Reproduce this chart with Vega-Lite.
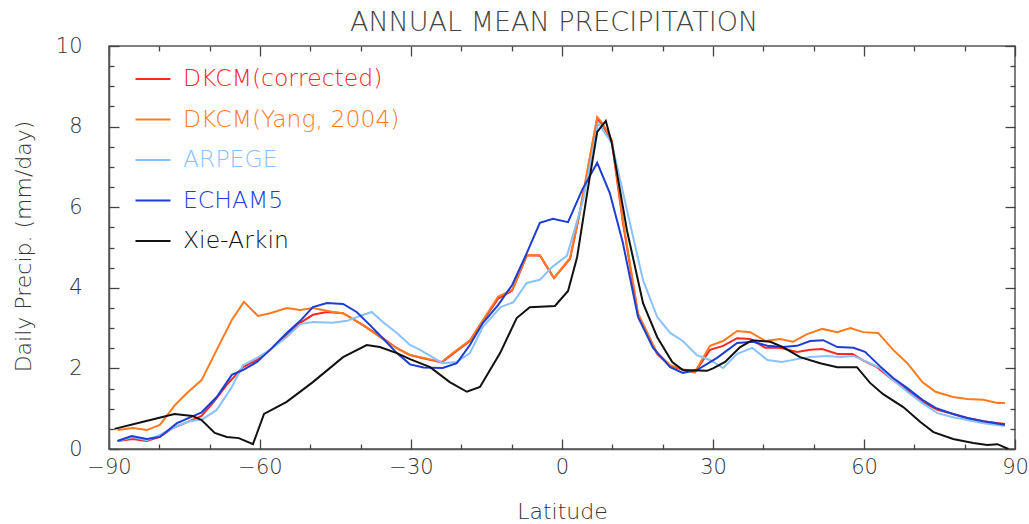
{
  "$schema": "https://vega.github.io/schema/vega-lite/v6.json",
  "width": 906,
  "height": 403,
  "autosize": {"type": "none"},
  "padding": {"left": 109, "top": 46, "right": 14, "bottom": 75},
  "background": "white",
  "title": {"text": "ANNUAL MEAN PRECIPITATION", "fontSize": 27, "font": "DejaVu Sans", "fontWeight": 200, "color": "#444", "offset": -2, "dx": -8, "anchor": "middle"},
  "config": {"view": {"stroke": "#555", "strokeWidth": 1.5}, "axis": {"grid": false, "domainColor": "#555", "domainWidth": 1.5, "tickColor": "#444", "tickWidth": 1.3, "zindex": 1}},
  "data": {"values": [
    {"s":"DKCM(corrected)","lat":-88.3,"p":0.2},{"s":"DKCM(corrected)","lat":-85.3,"p":0.25},{"s":"DKCM(corrected)","lat":-82.5,"p":0.2},{"s":"DKCM(corrected)","lat":-79.9,"p":0.3},{"s":"DKCM(corrected)","lat":-77.3,"p":0.52},{"s":"DKCM(corrected)","lat":-74,"p":0.69},{"s":"DKCM(corrected)","lat":-71.6,"p":0.82},{"s":"DKCM(corrected)","lat":-69.4,"p":1.14},{"s":"DKCM(corrected)","lat":-66.6,"p":1.59},{"s":"DKCM(corrected)","lat":-63.4,"p":2.03},{"s":"DKCM(corrected)","lat":-60.6,"p":2.21},{"s":"DKCM(corrected)","lat":-58,"p":2.46},{"s":"DKCM(corrected)","lat":-54.7,"p":2.83},{"s":"DKCM(corrected)","lat":-52,"p":3.13},{"s":"DKCM(corrected)","lat":-49.5,"p":3.33},{"s":"DKCM(corrected)","lat":-46.7,"p":3.4},{"s":"DKCM(corrected)","lat":-43.5,"p":3.37},{"s":"DKCM(corrected)","lat":-39.6,"p":3.08},{"s":"DKCM(corrected)","lat":-36.2,"p":2.8},{"s":"DKCM(corrected)","lat":-32.8,"p":2.5},{"s":"DKCM(corrected)","lat":-30.2,"p":2.33},{"s":"DKCM(corrected)","lat":-28.2,"p":2.27},{"s":"DKCM(corrected)","lat":-23.9,"p":2.15},{"s":"DKCM(corrected)","lat":-21.7,"p":2.36},{"s":"DKCM(corrected)","lat":-18.3,"p":2.68},{"s":"DKCM(corrected)","lat":-15.7,"p":3.18},{"s":"DKCM(corrected)","lat":-12.7,"p":3.73},{"s":"DKCM(corrected)","lat":-9.9,"p":3.93},{"s":"DKCM(corrected)","lat":-7,"p":4.8},{"s":"DKCM(corrected)","lat":-4.4,"p":4.8},{"s":"DKCM(corrected)","lat":-1.6,"p":4.24},{"s":"DKCM(corrected)","lat":1.6,"p":4.72},{"s":"DKCM(corrected)","lat":3.6,"p":5.9},{"s":"DKCM(corrected)","lat":7,"p":8.2},{"s":"DKCM(corrected)","lat":8,"p":8.05},{"s":"DKCM(corrected)","lat":9.9,"p":7.62},{"s":"DKCM(corrected)","lat":12.1,"p":5.62},{"s":"DKCM(corrected)","lat":15.1,"p":3.33},{"s":"DKCM(corrected)","lat":18.9,"p":2.36},{"s":"DKCM(corrected)","lat":21.5,"p":2.06},{"s":"DKCM(corrected)","lat":24,"p":1.97},{"s":"DKCM(corrected)","lat":26.4,"p":1.9},{"s":"DKCM(corrected)","lat":29.4,"p":2.46},{"s":"DKCM(corrected)","lat":32,"p":2.56},{"s":"DKCM(corrected)","lat":34.8,"p":2.75},{"s":"DKCM(corrected)","lat":37.4,"p":2.73},{"s":"DKCM(corrected)","lat":40.4,"p":2.51},{"s":"DKCM(corrected)","lat":43.3,"p":2.51},{"s":"DKCM(corrected)","lat":46.7,"p":2.41},{"s":"DKCM(corrected)","lat":49.3,"p":2.46},{"s":"DKCM(corrected)","lat":51.7,"p":2.48},{"s":"DKCM(corrected)","lat":54.7,"p":2.36},{"s":"DKCM(corrected)","lat":57.7,"p":2.36},{"s":"DKCM(corrected)","lat":59.8,"p":2.2},{"s":"DKCM(corrected)","lat":62.6,"p":2.03},{"s":"DKCM(corrected)","lat":65.8,"p":1.71},{"s":"DKCM(corrected)","lat":68.6,"p":1.46},{"s":"DKCM(corrected)","lat":71.6,"p":1.17},{"s":"DKCM(corrected)","lat":74.6,"p":0.97},{"s":"DKCM(corrected)","lat":77.7,"p":0.87},{"s":"DKCM(corrected)","lat":80.5,"p":0.77},{"s":"DKCM(corrected)","lat":83.7,"p":0.69},{"s":"DKCM(corrected)","lat":88,"p":0.62},
    {"s":"DKCM(Yang, 2004)","lat":-88.3,"p":0.47},{"s":"DKCM(Yang, 2004)","lat":-85.3,"p":0.52},{"s":"DKCM(Yang, 2004)","lat":-82.5,"p":0.47},{"s":"DKCM(Yang, 2004)","lat":-79.9,"p":0.6},{"s":"DKCM(Yang, 2004)","lat":-76.9,"p":1.09},{"s":"DKCM(Yang, 2004)","lat":-74.5,"p":1.39},{"s":"DKCM(Yang, 2004)","lat":-71.6,"p":1.71},{"s":"DKCM(Yang, 2004)","lat":-68.6,"p":2.46},{"s":"DKCM(Yang, 2004)","lat":-65.6,"p":3.2},{"s":"DKCM(Yang, 2004)","lat":-63.2,"p":3.65},{"s":"DKCM(Yang, 2004)","lat":-60.4,"p":3.3},{"s":"DKCM(Yang, 2004)","lat":-58,"p":3.37},{"s":"DKCM(Yang, 2004)","lat":-54.7,"p":3.5},{"s":"DKCM(Yang, 2004)","lat":-52,"p":3.45},{"s":"DKCM(Yang, 2004)","lat":-49.5,"p":3.5},{"s":"DKCM(Yang, 2004)","lat":-45.5,"p":3.4},{"s":"DKCM(Yang, 2004)","lat":-43.5,"p":3.37},{"s":"DKCM(Yang, 2004)","lat":-39.6,"p":3.08},{"s":"DKCM(Yang, 2004)","lat":-36.2,"p":2.78},{"s":"DKCM(Yang, 2004)","lat":-32.8,"p":2.5},{"s":"DKCM(Yang, 2004)","lat":-30.2,"p":2.33},{"s":"DKCM(Yang, 2004)","lat":-28.2,"p":2.28},{"s":"DKCM(Yang, 2004)","lat":-23.9,"p":2.16},{"s":"DKCM(Yang, 2004)","lat":-21.7,"p":2.38},{"s":"DKCM(Yang, 2004)","lat":-18.3,"p":2.7},{"s":"DKCM(Yang, 2004)","lat":-15.7,"p":3.2},{"s":"DKCM(Yang, 2004)","lat":-12.7,"p":3.78},{"s":"DKCM(Yang, 2004)","lat":-9.9,"p":3.95},{"s":"DKCM(Yang, 2004)","lat":-7,"p":4.81},{"s":"DKCM(Yang, 2004)","lat":-4.4,"p":4.81},{"s":"DKCM(Yang, 2004)","lat":-1.6,"p":4.24},{"s":"DKCM(Yang, 2004)","lat":1.6,"p":4.74},{"s":"DKCM(Yang, 2004)","lat":3.6,"p":5.93},{"s":"DKCM(Yang, 2004)","lat":7,"p":8.24},{"s":"DKCM(Yang, 2004)","lat":8,"p":8.09},{"s":"DKCM(Yang, 2004)","lat":9.9,"p":7.67},{"s":"DKCM(Yang, 2004)","lat":12.1,"p":5.68},{"s":"DKCM(Yang, 2004)","lat":15.1,"p":3.37},{"s":"DKCM(Yang, 2004)","lat":18.9,"p":2.38},{"s":"DKCM(Yang, 2004)","lat":21.5,"p":2.08},{"s":"DKCM(Yang, 2004)","lat":24,"p":1.98},{"s":"DKCM(Yang, 2004)","lat":26.4,"p":1.91},{"s":"DKCM(Yang, 2004)","lat":29.4,"p":2.56},{"s":"DKCM(Yang, 2004)","lat":32,"p":2.68},{"s":"DKCM(Yang, 2004)","lat":34.8,"p":2.93},{"s":"DKCM(Yang, 2004)","lat":37.4,"p":2.9},{"s":"DKCM(Yang, 2004)","lat":40.4,"p":2.68},{"s":"DKCM(Yang, 2004)","lat":43.3,"p":2.73},{"s":"DKCM(Yang, 2004)","lat":45.9,"p":2.66},{"s":"DKCM(Yang, 2004)","lat":48.7,"p":2.85},{"s":"DKCM(Yang, 2004)","lat":51.7,"p":2.98},{"s":"DKCM(Yang, 2004)","lat":54.7,"p":2.9},{"s":"DKCM(Yang, 2004)","lat":57.3,"p":3.0},{"s":"DKCM(Yang, 2004)","lat":59.8,"p":2.9},{"s":"DKCM(Yang, 2004)","lat":62.8,"p":2.88},{"s":"DKCM(Yang, 2004)","lat":65.8,"p":2.46},{"s":"DKCM(Yang, 2004)","lat":68.6,"p":2.13},{"s":"DKCM(Yang, 2004)","lat":71.6,"p":1.66},{"s":"DKCM(Yang, 2004)","lat":74.2,"p":1.42},{"s":"DKCM(Yang, 2004)","lat":77.7,"p":1.29},{"s":"DKCM(Yang, 2004)","lat":80.5,"p":1.24},{"s":"DKCM(Yang, 2004)","lat":83.7,"p":1.22},{"s":"DKCM(Yang, 2004)","lat":86.5,"p":1.14},{"s":"DKCM(Yang, 2004)","lat":88,"p":1.14},
    {"s":"ARPEGE","lat":-88.3,"p":0.2},{"s":"ARPEGE","lat":-85.3,"p":0.3},{"s":"ARPEGE","lat":-82.5,"p":0.22},{"s":"ARPEGE","lat":-79.9,"p":0.35},{"s":"ARPEGE","lat":-76.5,"p":0.57},{"s":"ARPEGE","lat":-74,"p":0.69},{"s":"ARPEGE","lat":-71.4,"p":0.74},{"s":"ARPEGE","lat":-68.6,"p":0.97},{"s":"ARPEGE","lat":-65.6,"p":1.54},{"s":"ARPEGE","lat":-63.4,"p":2.08},{"s":"ARPEGE","lat":-60.6,"p":2.26},{"s":"ARPEGE","lat":-58,"p":2.46},{"s":"ARPEGE","lat":-54.7,"p":2.78},{"s":"ARPEGE","lat":-52,"p":3.1},{"s":"ARPEGE","lat":-49.5,"p":3.15},{"s":"ARPEGE","lat":-45.5,"p":3.13},{"s":"ARPEGE","lat":-42.7,"p":3.18},{"s":"ARPEGE","lat":-40.2,"p":3.3},{"s":"ARPEGE","lat":-37.8,"p":3.4},{"s":"ARPEGE","lat":-35.6,"p":3.15},{"s":"ARPEGE","lat":-32.8,"p":2.88},{"s":"ARPEGE","lat":-30.2,"p":2.58},{"s":"ARPEGE","lat":-28.2,"p":2.46},{"s":"ARPEGE","lat":-23.7,"p":2.13},{"s":"ARPEGE","lat":-20.9,"p":2.16},{"s":"ARPEGE","lat":-18.3,"p":2.38},{"s":"ARPEGE","lat":-15.7,"p":3.03},{"s":"ARPEGE","lat":-12.2,"p":3.52},{"s":"ARPEGE","lat":-9.7,"p":3.64},{"s":"ARPEGE","lat":-7,"p":4.12},{"s":"ARPEGE","lat":-4.4,"p":4.2},{"s":"ARPEGE","lat":-1.9,"p":4.52},{"s":"ARPEGE","lat":1.0,"p":4.8},{"s":"ARPEGE","lat":4.2,"p":6.18},{"s":"ARPEGE","lat":7.2,"p":8.09},{"s":"ARPEGE","lat":9.9,"p":7.59},{"s":"ARPEGE","lat":12.9,"p":5.93},{"s":"ARPEGE","lat":16.1,"p":4.19},{"s":"ARPEGE","lat":18.9,"p":3.28},{"s":"ARPEGE","lat":21.5,"p":2.88},{"s":"ARPEGE","lat":24,"p":2.68},{"s":"ARPEGE","lat":26.8,"p":2.33},{"s":"ARPEGE","lat":29.4,"p":2.21},{"s":"ARPEGE","lat":32,"p":2.01},{"s":"ARPEGE","lat":34.8,"p":2.36},{"s":"ARPEGE","lat":37.8,"p":2.51},{"s":"ARPEGE","lat":40.8,"p":2.21},{"s":"ARPEGE","lat":43.7,"p":2.16},{"s":"ARPEGE","lat":46.7,"p":2.23},{"s":"ARPEGE","lat":49.3,"p":2.28},{"s":"ARPEGE","lat":52.7,"p":2.31},{"s":"ARPEGE","lat":55.3,"p":2.28},{"s":"ARPEGE","lat":57.9,"p":2.31},{"s":"ARPEGE","lat":60.6,"p":2.16},{"s":"ARPEGE","lat":63.2,"p":2.01},{"s":"ARPEGE","lat":65.8,"p":1.71},{"s":"ARPEGE","lat":68.6,"p":1.42},{"s":"ARPEGE","lat":71.6,"p":1.14},{"s":"ARPEGE","lat":74.6,"p":0.89},{"s":"ARPEGE","lat":77.7,"p":0.79},{"s":"ARPEGE","lat":80.5,"p":0.72},{"s":"ARPEGE","lat":83.7,"p":0.64},{"s":"ARPEGE","lat":88,"p":0.57},
    {"s":"ECHAM5","lat":-88.3,"p":0.2},{"s":"ECHAM5","lat":-85.5,"p":0.32},{"s":"ECHAM5","lat":-82.5,"p":0.25},{"s":"ECHAM5","lat":-79.9,"p":0.3},{"s":"ECHAM5","lat":-76.5,"p":0.64},{"s":"ECHAM5","lat":-71.6,"p":0.91},{"s":"ECHAM5","lat":-68.6,"p":1.29},{"s":"ECHAM5","lat":-65.6,"p":1.84},{"s":"ECHAM5","lat":-63.4,"p":1.96},{"s":"ECHAM5","lat":-60.6,"p":2.16},{"s":"ECHAM5","lat":-58,"p":2.46},{"s":"ECHAM5","lat":-54.7,"p":2.88},{"s":"ECHAM5","lat":-52,"p":3.18},{"s":"ECHAM5","lat":-49.5,"p":3.52},{"s":"ECHAM5","lat":-46.7,"p":3.62},{"s":"ECHAM5","lat":-43.5,"p":3.6},{"s":"ECHAM5","lat":-40.8,"p":3.4},{"s":"ECHAM5","lat":-38.2,"p":3.08},{"s":"ECHAM5","lat":-35.6,"p":2.75},{"s":"ECHAM5","lat":-32.8,"p":2.38},{"s":"ECHAM5","lat":-30.2,"p":2.1},{"s":"ECHAM5","lat":-27.5,"p":2.02},{"s":"ECHAM5","lat":-23.7,"p":2.01},{"s":"ECHAM5","lat":-20.9,"p":2.13},{"s":"ECHAM5","lat":-18.3,"p":2.58},{"s":"ECHAM5","lat":-15.7,"p":3.13},{"s":"ECHAM5","lat":-12.7,"p":3.57},{"s":"ECHAM5","lat":-9.9,"p":4.07},{"s":"ECHAM5","lat":-7,"p":4.86},{"s":"ECHAM5","lat":-4.4,"p":5.61},{"s":"ECHAM5","lat":-1.8,"p":5.71},{"s":"ECHAM5","lat":1.2,"p":5.63},{"s":"ECHAM5","lat":4,"p":6.43},{"s":"ECHAM5","lat":7,"p":7.1},{"s":"ECHAM5","lat":9.5,"p":6.35},{"s":"ECHAM5","lat":12.1,"p":5.11},{"s":"ECHAM5","lat":15.1,"p":3.28},{"s":"ECHAM5","lat":18.1,"p":2.51},{"s":"ECHAM5","lat":21.5,"p":2.03},{"s":"ECHAM5","lat":24,"p":1.89},{"s":"ECHAM5","lat":26.8,"p":1.96},{"s":"ECHAM5","lat":30.8,"p":2.26},{"s":"ECHAM5","lat":34.8,"p":2.63},{"s":"ECHAM5","lat":38,"p":2.66},{"s":"ECHAM5","lat":40.8,"p":2.56},{"s":"ECHAM5","lat":43.9,"p":2.53},{"s":"ECHAM5","lat":46.7,"p":2.56},{"s":"ECHAM5","lat":49.3,"p":2.68},{"s":"ECHAM5","lat":51.9,"p":2.7},{"s":"ECHAM5","lat":54.7,"p":2.53},{"s":"ECHAM5","lat":57.9,"p":2.51},{"s":"ECHAM5","lat":60.2,"p":2.41},{"s":"ECHAM5","lat":63.2,"p":2.05},{"s":"ECHAM5","lat":65.8,"p":1.76},{"s":"ECHAM5","lat":68.6,"p":1.51},{"s":"ECHAM5","lat":71.6,"p":1.22},{"s":"ECHAM5","lat":74.2,"p":1.02},{"s":"ECHAM5","lat":77.7,"p":0.87},{"s":"ECHAM5","lat":80.5,"p":0.77},{"s":"ECHAM5","lat":83.7,"p":0.69},{"s":"ECHAM5","lat":88,"p":0.6},
    {"s":"Xie-Arkin","lat":-88.9,"p":0.5},{"s":"Xie-Arkin","lat":-83,"p":0.68},{"s":"Xie-Arkin","lat":-77,"p":0.87},{"s":"Xie-Arkin","lat":-73.4,"p":0.82},{"s":"Xie-Arkin","lat":-71.6,"p":0.72},{"s":"Xie-Arkin","lat":-69,"p":0.4},{"s":"Xie-Arkin","lat":-66.6,"p":0.3},{"s":"Xie-Arkin","lat":-64.2,"p":0.27},{"s":"Xie-Arkin","lat":-61.4,"p":0.12},{"s":"Xie-Arkin","lat":-59.2,"p":0.87},{"s":"Xie-Arkin","lat":-54.7,"p":1.17},{"s":"Xie-Arkin","lat":-49.5,"p":1.66},{"s":"Xie-Arkin","lat":-43.5,"p":2.28},{"s":"Xie-Arkin","lat":-38.8,"p":2.58},{"s":"Xie-Arkin","lat":-36.2,"p":2.53},{"s":"Xie-Arkin","lat":-32.8,"p":2.38},{"s":"Xie-Arkin","lat":-30.2,"p":2.23},{"s":"Xie-Arkin","lat":-26.2,"p":2.03},{"s":"Xie-Arkin","lat":-22.3,"p":1.66},{"s":"Xie-Arkin","lat":-18.9,"p":1.42},{"s":"Xie-Arkin","lat":-16.3,"p":1.54},{"s":"Xie-Arkin","lat":-12.3,"p":2.38},{"s":"Xie-Arkin","lat":-9,"p":3.25},{"s":"Xie-Arkin","lat":-6.4,"p":3.52},{"s":"Xie-Arkin","lat":-1.4,"p":3.55},{"s":"Xie-Arkin","lat":1.2,"p":3.92},{"s":"Xie-Arkin","lat":3,"p":4.76},{"s":"Xie-Arkin","lat":5,"p":6.35},{"s":"Xie-Arkin","lat":7,"p":7.87},{"s":"Xie-Arkin","lat":8.7,"p":8.14},{"s":"Xie-Arkin","lat":9.9,"p":7.59},{"s":"Xie-Arkin","lat":12.9,"p":5.43},{"s":"Xie-Arkin","lat":16.1,"p":3.62},{"s":"Xie-Arkin","lat":18.9,"p":2.78},{"s":"Xie-Arkin","lat":21.9,"p":2.16},{"s":"Xie-Arkin","lat":24,"p":1.96},{"s":"Xie-Arkin","lat":28.8,"p":1.94},{"s":"Xie-Arkin","lat":30,"p":2.0},{"s":"Xie-Arkin","lat":32.4,"p":2.16},{"s":"Xie-Arkin","lat":35.4,"p":2.53},{"s":"Xie-Arkin","lat":37.8,"p":2.7},{"s":"Xie-Arkin","lat":41.4,"p":2.66},{"s":"Xie-Arkin","lat":43.9,"p":2.53},{"s":"Xie-Arkin","lat":47.3,"p":2.28},{"s":"Xie-Arkin","lat":51.3,"p":2.13},{"s":"Xie-Arkin","lat":54.7,"p":2.03},{"s":"Xie-Arkin","lat":58.6,"p":2.03},{"s":"Xie-Arkin","lat":61.2,"p":1.64},{"s":"Xie-Arkin","lat":63.8,"p":1.36},{"s":"Xie-Arkin","lat":67.8,"p":1.04},{"s":"Xie-Arkin","lat":71.2,"p":0.67},{"s":"Xie-Arkin","lat":73.8,"p":0.42},{"s":"Xie-Arkin","lat":77.7,"p":0.25},{"s":"Xie-Arkin","lat":81.7,"p":0.15},{"s":"Xie-Arkin","lat":84.5,"p":0.1},{"s":"Xie-Arkin","lat":86.5,"p":0.12},{"s":"Xie-Arkin","lat":88.7,"p":0.0}
  ]},
  "resolve": {"axis": {"x": "independent", "y": "independent"}},
  "layer": [
    {
      "mark": {"type": "line", "strokeWidth": 2, "clip": true},
      "encoding": {
        "x": {"field": "lat", "type": "quantitative", "scale": {"domain": [-90, 90], "nice": false, "zero": false},
          "axis": {"orient": "bottom", "values": [-90, -60, -30, 0, 30, 60, 90], "ticks": false, "labelPadding": 7, "labelFontSize": 21, "labelFont": "DejaVu Sans", "labelFontWeight": 200, "labelColor": "#333", "labelFlush": false,
            "title": "Latitude", "titleFontSize": 22, "titleFont": "DejaVu Sans", "titleFontWeight": 200, "titleColor": "#333", "titleY": 52, "titleBaseline": "top"}},
        "y": {"field": "p", "type": "quantitative", "scale": {"domain": [0, 10], "nice": false},
          "axis": {"orient": "left", "values": [0, 2, 4, 6, 8, 10], "ticks": false, "labelPadding": 27, "labelFontSize": 21, "labelFont": "DejaVu Sans", "labelFontWeight": 200, "labelColor": "#333", "labelFlush": false,
            "title": "Daily Precip. (mm/day)", "titleFontSize": 22, "titleFont": "DejaVu Sans", "titleFontWeight": 200, "titleColor": "#333", "titleX": -86, "titleY": 200, "titleAngle": 270, "titleAlign": "center", "titleBaseline": "middle"}},
        "color": {"field": "s", "type": "nominal",
          "scale": {"domain": ["DKCM(corrected)", "DKCM(Yang, 2004)", "ARPEGE", "ECHAM5", "Xie-Arkin"], "range": ["#ff2626", "#ff7a1f", "#88c2ff", "#1e3ed2", "#111111"]},
          "legend": {"orient": "none", "legendX": 25, "legendY": 14, "title": null, "symbolType": "stroke", "symbolSize": 1225, "symbolStrokeWidth": 2.5, "labelFontSize": 23.5, "labelFont": "DejaVu Sans", "labelFontWeight": 200, "labelOffset": 11, "rowPadding": 9.5, "labelLimit": 400,
            "encode": {"labels": {"update": {"fill": {"scale": "color", "field": "value"}}}}}},
        "strokeWidth": {"field": "s", "type": "nominal", "scale": {"domain": ["DKCM(corrected)", "DKCM(Yang, 2004)", "ARPEGE", "ECHAM5", "Xie-Arkin"], "range": [2.2, 2.2, 1.6, 2.2, 1.8]}, "legend": null}
      }
    },
    {
      "mark": {"type": "point", "opacity": 0},
      "encoding": {
        "x": {"field": "lat", "type": "quantitative", "axis": {"orient": "bottom", "offset": -10, "values": [-90, -60, -30, 0, 30, 60, 90], "tickSize": 10, "labels": false, "domain": false, "title": null}},
        "y": {"field": "p", "type": "quantitative", "axis": {"orient": "left", "offset": -10, "values": [0, 2, 4, 6, 8, 10], "tickSize": 10, "labels": false, "domain": false, "title": null}}
      }
    },
    {
      "mark": {"type": "point", "opacity": 0},
      "encoding": {
        "x": {"field": "lat", "type": "quantitative", "axis": {"orient": "bottom", "offset": -5, "values": [-80, -70, -50, -40, -20, -10, 10, 20, 40, 50, 70, 80], "tickSize": 5, "labels": false, "domain": false, "title": null}},
        "y": {"field": "p", "type": "quantitative", "axis": {"orient": "left", "offset": -5, "values": [0.5, 1, 1.5, 2.5, 3, 3.5, 4.5, 5, 5.5, 6.5, 7, 7.5, 8.5, 9, 9.5], "tickSize": 5, "labels": false, "domain": false, "title": null}}
      }
    },
    {
      "mark": {"type": "point", "opacity": 0},
      "encoding": {
        "x": {"field": "lat", "type": "quantitative", "axis": {"orient": "top", "offset": -10, "values": [-90, -60, -30, 0, 30, 60, 90], "tickSize": 10, "labels": false, "domain": false, "title": null}},
        "y": {"field": "p", "type": "quantitative", "axis": {"orient": "right", "offset": -10, "values": [0, 2, 4, 6, 8, 10], "tickSize": 10, "labels": false, "domain": false, "title": null}}
      }
    },
    {
      "mark": {"type": "point", "opacity": 0},
      "encoding": {
        "x": {"field": "lat", "type": "quantitative", "axis": {"orient": "top", "offset": -5, "values": [-80, -70, -50, -40, -20, -10, 10, 20, 40, 50, 70, 80], "tickSize": 5, "labels": false, "domain": false, "title": null}},
        "y": {"field": "p", "type": "quantitative", "axis": {"orient": "right", "offset": -5, "values": [0.5, 1, 1.5, 2.5, 3, 3.5, 4.5, 5, 5.5, 6.5, 7, 7.5, 8.5, 9, 9.5], "tickSize": 5, "labels": false, "domain": false, "title": null}}
      }
    }
  ]
}
